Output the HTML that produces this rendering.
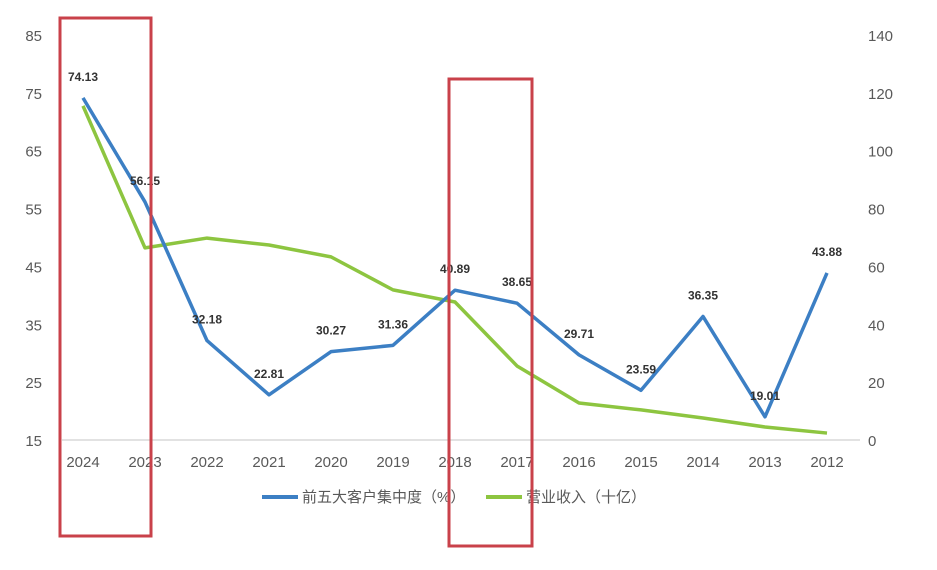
<!DOCTYPE html>
<html><head><meta charset="utf-8"><style>
html,body{margin:0;padding:0;background:#fff;width:937px;height:570px;overflow:hidden}
svg{font-family:"Liberation Sans","Noto Sans CJK SC",sans-serif}
</style></head><body>
<svg id="chart" width="937" height="570"></svg>
<script>
const categories=["2024","2023","2022","2021","2020","2019","2018","2017","2016","2015","2014","2013","2012"];
const concentration=[74.13,56.15,32.18,22.81,30.27,31.36,40.89,38.65,29.71,23.59,36.35,19.01,43.88];
const revenue=[115.5,66.4,69.8,67.4,63.3,51.9,47.7,25.6,12.8,10.4,7.6,4.5,2.4];
const leftTicks=[15,25,35,45,55,65,75,85];
const rightTicks=[0,20,40,60,80,100,120,140];
const NS="http://www.w3.org/2000/svg";
const svg=document.getElementById('chart');
const x0=83,dx=62,yTop=35,yBot=440;
const xs=i=>x0+i*dx;
const yL=v=>yBot-(v-15)/70*(yBot-yTop);
const yR=v=>yBot-v/140*(yBot-yTop);
function mk(t,a,txt){const e=document.createElementNS(NS,t);for(const k in a)e.setAttribute(k,a[k]);if(txt!==undefined)e.textContent=txt;svg.appendChild(e);return e;}
let e=mk('line',{x1:62,x2:860,y1:yBot,y2:yBot,stroke:'#d9d9d9','stroke-width':1.5});


leftTicks.forEach(v=>{const t=mk('text',{x:42,y:yL(v)+6,'text-anchor':'end','font-size':15,fill:'#595959'},String(v));

});
rightTicks.forEach(v=>{const t=mk('text',{x:868,y:yR(v)+6,'text-anchor':'start','font-size':15,fill:'#595959'},String(v));

});
categories.forEach((c,i)=>{const t=mk('text',{x:xs(i),y:467,'text-anchor':'middle','font-size':15,fill:'#595959'},c);

});
const gp=mk('polyline',{points:revenue.map((v,i)=>xs(i)+','+yR(v)).join(' '),fill:'none',stroke:'#8dc540','stroke-width':3.5,'stroke-linejoin':'round'});


const bp=mk('polyline',{points:concentration.map((v,i)=>xs(i)+','+yL(v)).join(' '),fill:'none',stroke:'#3c7fc4','stroke-width':3.5,'stroke-linejoin':'round'});


concentration.forEach((v,i)=>{const t=mk('text',{x:xs(i),y:yL(v)-17,'text-anchor':'middle','font-size':12,'font-weight':'bold',fill:'#333'},v.toFixed(2));

});
let l=mk('line',{x1:262,x2:298,y1:497,y2:497,stroke:'#3c7fc4','stroke-width':4});


let lt=mk('text',{x:302,y:502,'font-size':15,fill:'#595959'},'前五大客户集中度（%）');


l=mk('line',{x1:486,x2:522,y1:497,y2:497,stroke:'#8dc540','stroke-width':4});


lt=mk('text',{x:526,y:502,'font-size':15,fill:'#595959'},'营业收入（十亿）');


let r=mk('rect',{x:60,y:18,width:91,height:518,fill:'none',stroke:'#c9414a','stroke-width':3});


r=mk('rect',{x:449,y:79,width:83,height:467,fill:'none',stroke:'#c9414a','stroke-width':3});


</script>
</body></html>
